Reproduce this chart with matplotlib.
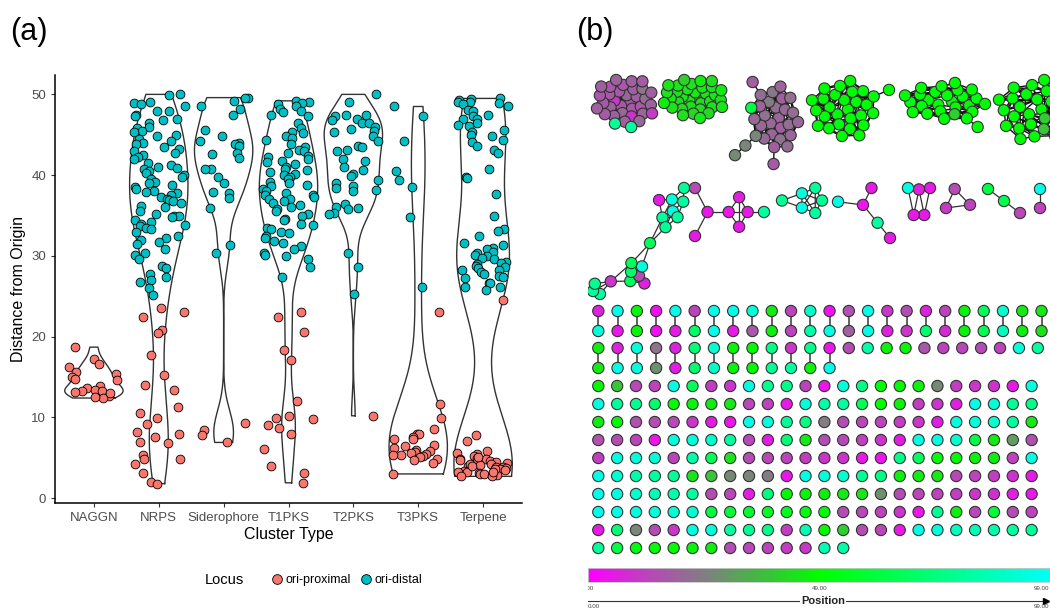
"""Two-panel figure: BGC distance-from-origin violins (a) and a position-coloured network (b)."""

import matplotlib

matplotlib.use("Agg")

import matplotlib.pyplot as plt  # noqa: E402
import numpy as np  # noqa: E402
from matplotlib.collections import LineCollection  # noqa: E402
from matplotlib.colors import LinearSegmentedColormap  # noqa: E402
from matplotlib.lines import Line2D  # noqa: E402

plt.rcParams["font.family"] = ["Liberation Sans", "DejaVu Sans"]

# ---------------------------------------------------------------- panel (a) data
CATEGORIES = ["NAGGN", "NRPS", "Siderophore", "T1PKS", "T2PKS", "T3PKS", "Terpene"]
LOCUS_LABELS = ["ori-proximal", "ori-distal"]
LOCUS_COLORS = ["#F8766D", "#00BFC4"]

NAGGN_PROX = [18.7, 17.2, 16.6, 16.2, 15.6, 15.4, 15.0, 14.7, 14.6, 13.9, 13.6, 13.4,
              13.3, 13.3, 13.1, 12.6, 12.4, 12.5, 13.0]
NAGGN_DIST = []
NRPS_PROX = [23.6, 23.0, 22.4, 20.8, 20.5, 17.7, 15.2, 14.0, 13.4, 11.3, 10.6, 9.9, 9.2,
             8.2, 7.9, 7.6, 7.0, 6.8, 5.3, 4.9, 4.8, 4.2, 3.1, 2.0, 1.8]
NRPS_DIST = [50.0, 49.9, 49.0, 48.9, 48.8, 48.5, 48.0, 47.9, 47.5, 47.3, 47.0, 46.8, 46.5,
             46.0, 45.8, 45.5, 45.3, 45.0, 44.8, 44.5, 44.2, 44.0, 43.9, 43.5, 43.2, 43.0,
             42.8, 42.5, 42.2, 42.0, 41.5, 41.2, 41.0, 40.9, 40.8, 40.5, 40.3, 40.0, 39.8,
             39.5, 39.2, 39.0, 38.8, 38.5, 38.3, 38.0, 37.9, 37.8, 37.5, 37.3, 37.0, 36.9,
             36.8, 36.5, 36.2, 36.0, 35.5, 35.2, 35.0, 34.9, 34.8, 34.5, 34.2, 34.0, 33.8,
             33.7, 33.5, 33.3, 33.0, 32.5, 32.2, 32.0, 31.7, 31.5, 30.8, 30.4, 30.1, 29.6,
             28.7, 28.5, 27.8, 27.4, 27.0, 26.8, 26.0, 25.2]
SIDERO_PROX = [9.3, 8.5, 7.8, 6.9]
SIDERO_DIST = [49.6, 49.5, 49.2, 48.6, 48.2, 47.5, 45.6, 44.8, 44.2, 44.0, 43.8, 43.6,
               42.8, 42.6, 42.1, 40.8, 40.7, 39.8, 39.0, 37.9, 37.8, 37.2, 35.9, 31.4, 30.4]
T1PKS_PROX = [23.0, 22.4, 20.6, 18.4, 17.1, 12.0, 10.2, 9.9, 9.8, 9.1, 8.7, 7.9, 6.1, 4.0,
              3.1, 1.9]
T1PKS_DIST = [49.2, 49.0, 48.9, 48.8, 48.5, 48.2, 48.0, 47.8, 47.5, 47.3, 46.4, 45.8, 45.4,
              45.2, 44.9, 44.6, 44.3, 43.8, 43.5, 43.1, 43.0, 42.8, 42.4, 42.2, 42.0, 41.8,
              41.6, 41.4, 41.0, 40.8, 40.6, 40.4, 40.1, 40.0, 39.8, 39.5, 39.2, 39.0, 38.8,
              38.6, 38.3, 38.0, 37.8, 37.6, 37.5, 37.3, 37.1, 37.0, 36.8, 36.5, 36.3, 36.0,
              35.8, 35.5, 35.2, 35.0, 34.6, 34.4, 34.0, 33.8, 33.5, 33.3, 33.0, 32.8, 32.5,
              32.2, 31.8, 31.6, 31.2, 30.8, 30.4, 30.1, 30.0, 29.6, 28.6, 27.4]
T2PKS_PROX = [10.2]
T2PKS_DIST = [50.0, 49.1, 47.5, 47.5, 47.3, 47.0, 46.8, 46.5, 46.4, 45.9, 45.7, 45.4, 45.5,
              44.8, 44.2, 43.6, 43.5, 43.1, 43.0, 42.0, 41.7, 41.0, 40.6, 40.2, 39.9, 39.4,
              39.0, 38.7, 38.4, 38.1, 38.0, 36.4, 36.0, 35.9, 35.8, 35.3, 35.2, 30.3, 28.6,
              25.3]
T3PKS_PROX = [23.1, 11.6, 9.9, 8.6, 8.0, 7.9, 7.6, 7.3, 7.3, 6.6, 6.4, 6.2, 6.0, 5.9, 5.7,
              5.6, 5.5, 5.4, 5.3, 5.2, 5.1, 4.9, 4.7, 4.4, 3.0]
T3PKS_DIST = [48.5, 47.3, 44.2, 40.5, 39.4, 38.5, 34.8, 26.1]
TERPENE_PROX = [24.5, 7.8, 7.1, 5.9, 5.6, 5.5, 5.2, 5.0, 4.9, 4.8, 4.6, 4.5, 4.4, 4.3, 4.2,
                4.1, 4.0, 3.9, 3.8, 3.7, 3.6, 3.5, 3.4, 3.3, 3.2, 3.1, 3.1, 3.0, 3.0, 2.9,
                2.8, 2.7, 4.7, 4.2, 3.6, 3.3, 5.1, 4.0]
TERPENE_DIST = [49.5, 49.4, 49.3, 49.0, 49.0, 48.9, 48.8, 48.5, 48.1, 48.0, 47.5, 47.3,
                47.0, 46.9, 46.4, 46.2, 46.1, 45.6, 45.3, 45.0, 44.9, 44.4, 44.1, 43.6,
                43.1, 42.7, 40.7, 39.8, 39.6, 37.7, 34.9, 33.3, 33.1, 32.5, 31.6, 31.4, 31.0,
                30.8, 30.5, 30.3, 30.1, 30.0, 29.8, 29.6, 29.3, 29.1, 29.0, 28.8, 28.6, 28.5,
                28.3, 28.2, 28.0, 27.8, 27.5, 27.4, 27.3, 26.7, 26.6, 26.2, 26.1, 25.8]

PROXIMAL = [NAGGN_PROX, NRPS_PROX, SIDERO_PROX, T1PKS_PROX, T2PKS_PROX, T3PKS_PROX, TERPENE_PROX]
DISTAL = [NAGGN_DIST, NRPS_DIST, SIDERO_DIST, T1PKS_DIST, T2PKS_DIST, T3PKS_DIST, TERPENE_DIST]

# ---------------------------------------------------------------- panel (b) data
# Node colour = gene position (0-99).
POSITION_MIN, POSITION_MID, POSITION_MAX = 0.0, 49.0, 99.0

C1_VALUES = [18, 17, 19, 16, 10, 18, 20, 17, 16, 19, 18, 9, 17, 21, 18, 16, 19, 17, 22, 18,
             16, 19, 17, 18, 20, 16, 18, 78, 19, 11, 18, 17, 80, 18]
C2_VALUES = [44, 43, 45, 42, 46, 44, 43, 45, 44, 42, 46, 43, 44, 45, 41, 44, 43, 46, 44, 42,
             45, 43, 44, 46, 42, 44, 45, 43, 40, 44, 46, 43, 45, 44]
C3_VALUES = [19, 20, 21, 18, 22, 20, 19, 24, 21, 20, 18, 22, 19, 21, 20, 23, 19, 20, 22, 18,
             21, 20, 26, 19, 21, 62, 18, 26, 27, 17]
C4_VALUES = [49, 50, 48, 51, 49, 50, 52, 48, 49, 51, 50, 49, 48, 50, 51, 49, 50, 48, 52, 49,
             50, 51, 49, 48, 50, 49, 51, 50]
C5_VALUES = [50, 49, 51, 48, 50, 52, 49, 50, 48, 51, 49, 40, 50, 51, 49, 48, 50, 52, 49, 50,
             51, 48, 49, 50, 51, 49, 50]
C6_VALUES = [50, 49, 51, 40, 50, 52, 49, 50, 48, 51, 49, 38, 50, 51, 49, 48, 50, 52, 49, 50,
             51, 48, 49, 50, 51, 49, 50, 48]

# dense clusters: core size, link offsets between core nodes, pendant (node, anchor) links
C1_CORE, C1_LINKS, C1_PENDANTS = 34, [1, 2, 3, 5, 8, 13], []
C2_CORE, C2_LINKS, C2_PENDANTS = 34, [1, 2, 3, 5, 8, 13], []
C3_CORE, C3_LINKS, C3_PENDANTS = 26, [1, 3, 5, 8, 13], [(26, 20), (27, 22), (28, 27), (29, 19)]
C4_CORE, C4_LINKS, C4_PENDANTS = 27, [3, 5, 8, 13], [(27, 26)]
C5_CORE, C5_LINKS, C5_PENDANTS = 26, [2, 5, 8, 13], [(26, 24)]
C6_CORE, C6_LINKS, C6_PENDANTS = 28, [2, 5, 8, 13], []

G1_VALUES = [80, 80, 78, 10, 68, 6, 14, 70, 92, 66, 66, 5, 80, 94, 78, 92, 80, 78, 80]
G1_EDGES = [(0, 1), (0, 2), (0, 3), (1, 2), (1, 3), (2, 3), (3, 4), (3, 9), (4, 5), (4, 6),
            (4, 7), (4, 8), (5, 6), (5, 8), (6, 7), (6, 8), (6, 9), (7, 8), (7, 9), (8, 9),
            (8, 10), (9, 10), (10, 12), (10, 14), (11, 12), (11, 15), (12, 13), (12, 14),
            (12, 15), (12, 16), (13, 14), (13, 15), (13, 16), (13, 18), (14, 16), (15, 17),
            (15, 18), (16, 18), (17, 18)]
G2_VALUES = [14, 4, 5, 4, 5, 6, 5, 80]
G2_EDGES = [(0, 1), (1, 2), (1, 3), (3, 4), (3, 5), (3, 6), (4, 5), (4, 6), (5, 6), (6, 7)]
G3_VALUES = [78, 92, 80, 94, 80, 78]
G3_EDGES = [(0, 1), (0, 2), (0, 3), (0, 4), (1, 2), (1, 3), (1, 4), (2, 3), (2, 4), (3, 4),
            (1, 5), (3, 5)]
G4_VALUES = [5, 4, 94, 80, 5]
G4_EDGES = [(0, 1), (1, 2), (1, 3), (3, 4)]
G5_VALUES = [4, 6, 92, 5, 4]
G5_EDGES = [(0, 1), (0, 3), (1, 2), (1, 3), (1, 4), (2, 4), (3, 4)]
G6_VALUES = [12, 11, 14]
G6_EDGES = [(0, 1), (1, 2), (0, 2)]
G7_VALUES = [13, 64, 62]
G7_EDGES = [(0, 1), (1, 2)]
G8_VALUES = [94, 12]
G8_EDGES = [(0, 1)]

# two-node components (top node, bottom node)
PAIR_ROW1_TOP = [6, 95, 48, 3, 95, 12, 95, 95, 92, 46, 12, 88, 3, 15, 94, 10, 14, 6, 12, 47,
                 66, 90, 46, 45]
PAIR_ROW1_BOTTOM = [92, 4, 47, 3, 5, 68, 95, 5, 16, 46, 12, 82, 94, 18, 93, 6, 10, 70, 8,
                    47, 65, 86, 46, 43]
PAIR_ROW2_TOP = [46, 6, 92, 22, 6, 72, 90, 47, 48, 75, 10, 76, 4]
PAIR_ROW2_BOTTOM = [45, 94, 93, 28, 5, 70, 88, 47, 48, 78, 80, 47, 95]
SINGLES_AFTER_PAIRS = [14, 82, 47, 48, 16, 12, 13, 14, 12, 92, 80]

# isolated nodes, row by row
SINGLE_ROWS = [
    [48, 38, 13, 12, 94, 66, 11, 10, 93, 78, 76, 12, 4, 92, 74, 49, 48, 47, 27, 11, 10, 9, 5, 93],
    [93, 79, 77, 70, 50, 47, 46, 45, 13, 12, 5, 92, 82, 80, 66, 49, 47, 11, 10, 6, 94, 91, 78, 76],
    [46, 48, 15, 14, 13, 10, 5, 4, 94, 92, 78, 74, 24, 14, 13, 12, 11, 10, 5, 93, 92, 90, 80, 45],
    [15, 14, 12, 4, 93, 92, 90, 80, 13, 5, 72, 46, 14, 13, 12, 10, 5, 94, 93, 90, 62, 45, 30, 15],
    [11, 93, 92, 91, 12, 82, 66, 44, 14, 13, 12, 11, 10, 9, 5, 4, 76, 68, 50, 48, 47, 46, 12, 93],
    [94, 90, 82, 80, 78, 44, 38, 27, 26, 24, 4, 94, 92, 90, 78, 74, 47, 46, 45, 13, 12, 11, 9, 5],
    [95, 93, 90, 84, 82, 80, 14, 13, 5, 72, 48, 47, 46, 45, 44, 28, 14, 13, 12, 11, 10, 9, 6, 4],
    [95, 94, 93, 92, 91, 90, 62, 60, 58, 56, 55, 52, 50, 14, 13, 12, 10, 4, 78, 46, 13, 60, 14, 12],
    [5, 72, 26, 14, 10, 93, 92, 80, 78, 76, 11, 84, 48, 40, 14, 13, 5, 94, 92, 86, 84, 82, 80, 78],
    [78, 62, 52, 50, 49, 47, 46, 14, 13, 12, 11, 10, 84, 82],
]

POSITION_CMAP = LinearSegmentedColormap.from_list(
    "position",
    [(0.0, "#ff00ff"), (0.13, "#b848b8"), (0.25, "#808080"), (0.36, "#44b844"),
     (0.495, "#00ff00"), (1.0, "#00ffff")],
)
GOLDEN = 2.39996


def sunflower(n):
    idx = np.arange(n)
    r = np.sqrt(idx + 0.5) / np.sqrt(n)
    return np.column_stack([r * np.cos(idx * GOLDEN), r * np.sin(idx * GOLDEN)])


def cluster_layout(core, links, pendants):
    """Packed disk for the core; pendants pushed radially outward from their anchor."""
    n = core + len(pendants)
    pos = np.zeros((n, 2))
    pos[:core] = sunflower(core)
    for node, anchor in pendants:
        d = pos[anchor] / np.linalg.norm(pos[anchor])
        pos[node] = pos[anchor] + 0.5 * d
    edges = [(i, (i + o) % core) for i in range(core) for o in links] + list(pendants)
    return pos, edges


def spring_layout(n, edges, iters=300):
    """Fruchterman-Reingold layout from a deterministic sunflower start."""
    if n == 1:
        return np.zeros((1, 2))
    pos = sunflower(n)
    adj = np.zeros((n, n))
    for a, b in edges:
        adj[a, b] = adj[b, a] = 1.0
    k = 1.0 / np.sqrt(n)
    t = 0.2
    dt = t / (iters + 1)
    for _ in range(iters):
        delta = pos[:, None, :] - pos[None, :, :]
        dist = np.clip(np.linalg.norm(delta, axis=-1), 0.01, None)
        force = k * k / dist**2 - adj * dist / k
        np.fill_diagonal(force, 0.0)
        disp = np.einsum("ijk,ij->ik", delta, force)
        length = np.clip(np.linalg.norm(disp, axis=1), 0.01, None)
        pos += disp * (t / length)[:, None]
        t -= dt
    return pos


def place(pos, box, rot=0.0, align=True):
    """Centre, optionally align principal axis, rotate and stretch a layout into a box."""
    x0, x1, y0, y1 = box
    pos = pos - pos.mean(axis=0)
    if align and len(pos) > 1:
        _, vecs = np.linalg.eigh(np.cov(pos.T))
        pos = pos @ vecs[:, ::-1]
    a = np.deg2rad(rot)
    pos = pos @ np.array([[np.cos(a), np.sin(a)], [-np.sin(a), np.cos(a)]])
    out = np.empty_like(pos)
    for d, (lo, hi) in enumerate([(x0, x1), (y0, y1)]):
        span = pos[:, d].max() - pos[:, d].min()
        if span > 1e-6:
            out[:, d] = (pos[:, d] - pos[:, d].min()) * (hi - lo) / span + lo
        else:
            out[:, d] = (lo + hi) / 2
    return out


def draw_graph(ax, xy, edges, values, edge_color="#303030", edge_width=0.9):
    if edges:
        segs = [[xy[a], xy[b]] for a, b in edges]
        ax.add_collection(LineCollection(segs, colors=edge_color, linewidths=edge_width,
                                         zorder=2))
    ax.scatter(xy[:, 0], xy[:, 1], c=values, cmap=POSITION_CMAP, vmin=POSITION_MIN,
               vmax=POSITION_MAX, s=66, edgecolors="#333333", linewidths=0.8, zorder=3)


fig = plt.figure(figsize=(10.5, 6.09), dpi=100)

# ---------------------------------------------------------------- panel (a)
ax = fig.add_axes([55 / 1050, 1 - 503 / 609, 467 / 1050, 428 / 609])
rng = np.random.default_rng(11)
for i, (prox, dist) in enumerate(zip(PROXIMAL, DISTAL)):
    vals = np.array(prox + dist, dtype=float)
    grid = np.linspace(vals.min(), vals.max(), 400)
    q75, q25 = np.percentile(vals, [75, 25])
    bw = 0.9 * min(vals.std(ddof=1), (q75 - q25) / 1.34) * len(vals) ** -0.2
    dens = np.exp(-0.5 * ((grid[:, None] - vals[None, :]) / bw) ** 2).sum(axis=1)
    half = dens / dens.max() * 0.45
    xs = np.concatenate([i + half, (i - half)[::-1], [i + half[0]]])
    ys = np.concatenate([grid, grid[::-1], [grid[0]]])
    ax.plot(xs, ys, color="#333333", linewidth=1.0, zorder=1)

for i, (prox, dist) in enumerate(zip(PROXIMAL, DISTAL)):
    for vals, color in ((prox, LOCUS_COLORS[0]), (dist, LOCUS_COLORS[1])):
        if not vals:
            continue
        jitter = rng.uniform(-0.4, 0.4, len(vals))
        ax.scatter(i + jitter, vals, s=40, color=color, edgecolors="black",
                   linewidths=0.6, zorder=3)

ax.set_xlim(-0.6, len(CATEGORIES) - 0.4)
ax.set_ylim(-0.6, 52.4)
ax.set_xticks(range(len(CATEGORIES)))
ax.set_xticklabels(CATEGORIES)
ax.set_yticks([0, 10, 20, 30, 40, 50])
ax.tick_params(colors="#333333", labelcolor="#4d4d4d", labelsize=9.5, length=3, width=0.8)
for side in ("top", "right"):
    ax.spines[side].set_visible(False)
for side in ("left", "bottom"):
    ax.spines[side].set_linewidth(1.1)
ax.set_xlabel("Cluster Type", fontsize=11.5, labelpad=2)
ax.set_ylabel("Distance from Origin", fontsize=11.5, labelpad=4)

fig.text(205 / 1050, 1 - 580 / 609, "Locus", fontsize=10.5, va="center")
handles = [Line2D([], [], marker="o", linestyle="none", markersize=7, markerfacecolor=c,
                  markeredgecolor="black", markeredgewidth=0.6) for c in LOCUS_COLORS]
fig.legend(handles, LOCUS_LABELS, loc="center left", ncol=2, frameon=False,
           bbox_to_anchor=(258 / 1050, 1 - 580 / 609), fontsize=9, handletextpad=0.1,
           columnspacing=0.6, handlelength=1.2)

fig.text(10 / 1050, 1 - 32 / 609, "(a)", fontsize=22, va="center")
fig.text(576 / 1050, 1 - 32 / 609, "(b)", fontsize=22, va="center")

# ---------------------------------------------------------------- panel (b)
axb = fig.add_axes([588 / 1050, 0, 462 / 1050, 1])
axb.axis("off")

dense_clusters = [
    (C1_VALUES, C1_CORE, C1_LINKS, C1_PENDANTS, (597, 652, 80, 127)),
    (C2_VALUES, C2_CORE, C2_LINKS, C2_PENDANTS, (664, 722, 80, 118)),
    (C3_VALUES, C3_CORE, C3_LINKS, C3_PENDANTS, (735, 798, 82, 164)),
    (C4_VALUES, C4_CORE, C4_LINKS, C4_PENDANTS, (812, 889, 81, 136)),
    (C5_VALUES, C5_CORE, C5_LINKS, C5_PENDANTS, (905, 985, 83, 127)),
    (C6_VALUES, C6_CORE, C6_LINKS, C6_PENDANTS, (999, 1072, 80, 139)),
]
for values, core, links, pendants, box in dense_clusters:
    pos, edges = cluster_layout(core, links, pendants)
    draw_graph(axb, place(pos, box, align=False), edges, values, "#111111", 1.0)

small_graphs = [
    (G1_VALUES, G1_EDGES, (593, 684, 188, 294), 128),
    (G2_VALUES, G2_EDGES, (695, 764, 188, 236), 0),
    (G3_VALUES, G3_EDGES, (782, 822, 188, 213), 0),
    (G4_VALUES, G4_EDGES, (838, 890, 188, 238), 60),
    (G5_VALUES, G5_EDGES, (908, 930, 188, 215), 0),
    (G6_VALUES, G6_EDGES, (946, 970, 189, 208), 0),
    (G7_VALUES, G7_EDGES, (988, 1020, 189, 213), 36),
    (G8_VALUES, G8_EDGES, (1040, 1040, 189, 208), 90),
]
for values, edges, box, rot in small_graphs:
    xy = place(spring_layout(len(values), edges), box, rot)
    draw_graph(axb, xy, edges, values)

# pairs and singletons on a grid
pair_dx, single_dx, row_dy = 19.27, 18.84, 18.0
for r, (tops, bottoms) in enumerate([(PAIR_ROW1_TOP, PAIR_ROW1_BOTTOM),
                                     (PAIR_ROW2_TOP, PAIR_ROW2_BOTTOM)]):
    y_top = 311 + r * 37
    for j, (vt, vb) in enumerate(zip(tops, bottoms)):
        x = 598.3 + j * pair_dx
        xy = np.array([[x, y_top], [x, y_top + 20]])
        draw_graph(axb, xy, [(0, 1)], [vt, vb], "#555555", 1.3)
x_after = 598.3 + len(PAIR_ROW2_TOP) * pair_dx
xs = x_after + np.arange(len(SINGLES_AFTER_PAIRS)) * 18.9
draw_graph(axb, np.column_stack([xs, np.full(len(xs), 348.0)]), [], SINGLES_AFTER_PAIRS)
for r, row in enumerate(SINGLE_ROWS):
    xs = 598.3 + np.arange(len(row)) * single_dx
    ys = np.full(len(row), 386 + r * row_dy)
    draw_graph(axb, np.column_stack([xs, ys]), [], row)

# colour legend for position
bar = np.linspace(POSITION_MIN, POSITION_MAX, 400)[None, :]
axb.imshow(bar, cmap=POSITION_CMAP, extent=(588, 1057, 582, 568), aspect="auto",
           interpolation="bilinear", zorder=1)
axb.plot([588, 1057, 1057, 588, 588], [568, 568, 582, 582, 568], color="#c8c8c8", lw=0.6)
span = 1057 - 588
axb.text(588, 588.5, "0.00", fontsize=4.5, color="#444444", ha="center", va="center",
         clip_on=True)
axb.text(588 + span * POSITION_MID / POSITION_MAX, 588.5, "49.00", fontsize=4.5,
         color="#444444", ha="center", va="center")
axb.text(1049, 588.5, "99.00", fontsize=4.5, color="#444444", ha="right", va="center")
axb.plot([588, 1046], [601, 601], color="#333333", lw=0.8)
axb.plot([1046], [601], marker=">", color="black", markersize=5)
axb.text(823, 601, "Position", fontsize=8, fontweight="bold", ha="center", va="center",
         color="#222222", bbox=dict(facecolor="white", edgecolor="none", pad=0.8))
axb.text(588, 606.5, "0.00", fontsize=4.5, color="#444444", ha="left", va="center")
axb.text(1049, 606.5, "99.00", fontsize=4.5, color="#444444", ha="right", va="center")

axb.set_xlim(588, 1050)
axb.set_ylim(609, 0)

fig.savefig("out.png", dpi=100, facecolor="white")
